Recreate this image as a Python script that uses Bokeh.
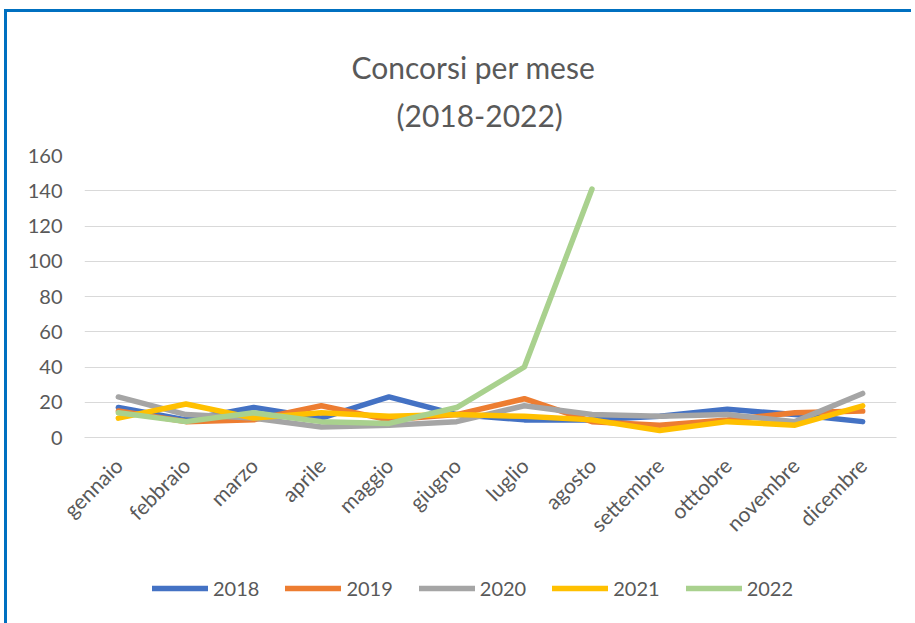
import math
from bokeh.plotting import figure
from bokeh.layouts import column
from bokeh.models import FactorRange, Range1d, Legend, LegendItem, Title, FixedTicker
from bokeh.embed import file_html
from bokeh.resources import INLINE

mesi = ["gennaio", "febbraio", "marzo", "aprile", "maggio", "giugno",
        "luglio", "agosto", "settembre", "otttobre", "novembre", "dicembre"]
anni = ["2018", "2019", "2020", "2021", "2022"]
nan = float("nan")
v2018 = [17, 10, 17, 11, 23, 13, 10, 10, 12, 16, 13, 9]
v2019 = [15, 9, 10, 18, 10, 13, 22, 9, 7, 10, 14, 15]
v2020 = [23, 13, 11, 6, 7, 9, 18, 13, 12, 13, 9, 25]
v2021 = [11, 19, 11, 14, 12, 13, 12, 10, 4, 9, 7, 18]
v2022 = [14, 9, 14, 9, 8, 17, 40, 141, nan, nan, nan, nan]
y_ticks = [0, 20, 40, 60, 80, 100, 120, 140, 160]
colori = ["#4472C4", "#ED7D31", "#A5A5A5", "#FFC000", "#A9D18E"]
serie = [v2018, v2019, v2020, v2021, v2022]

FONT = "Lato"
GREY = "#595959"
LW = 5.5

p = figure(width=904, height=551, output_backend="svg", toolbar_location=None,
           x_range=FactorRange(*mesi, range_padding=0), y_range=Range1d(0, 160),
           min_border_left=77, min_border_right=15, min_border_top=143, min_border_bottom=126)
p.outline_line_color = None
p.background_fill_color = "white"
p.border_fill_color = "white"

p.xgrid.grid_line_color = None
p.ygrid.grid_line_color = "#D9D9D9"
p.ygrid.grid_line_width = 1

p.yaxis.ticker = FixedTicker(ticks=y_ticks)
p.yaxis.axis_line_color = None
p.yaxis.major_tick_line_color = None
p.yaxis.major_tick_out = 0
p.yaxis.major_tick_in = 0
p.yaxis.minor_tick_line_color = None
p.yaxis.major_label_standoff = 22
p.yaxis.major_label_text_font = FONT
p.yaxis.major_label_text_font_size = "20px"
p.yaxis.major_label_text_color = GREY

p.xaxis.axis_line_color = "#D9D9D9"
p.xaxis.major_tick_line_color = None
p.xaxis.major_tick_out = 0
p.xaxis.major_tick_in = 0
p.xaxis.minor_tick_line_color = None
p.xaxis.major_label_orientation = math.pi / 4
p.xaxis.major_label_standoff = 24
p.xaxis.major_label_text_font = FONT
p.xaxis.major_label_text_font_size = "21px"
p.xaxis.major_label_text_color = GREY

for vals, col in zip(serie, colori):
    p.line(x=mesi, y=vals, line_color=col, line_width=LW,
           line_cap="round", line_join="round")

p.add_layout(Title(text="(2018-2022)", align="left", offset=312,
                   text_font=FONT, text_font_size="30px", text_font_style="normal",
                   text_color=GREY, standoff=46), "above")
p.add_layout(Title(text="Concorsi per mese", align="left", offset=267,
                   text_font=FONT, text_font_size="30px", text_font_style="normal",
                   text_color=GREY, standoff=-26), "above")

# legend strip (same series, drawn off-range so only the legend shows)
q = figure(width=904, height=60, output_backend="svg", toolbar_location=None,
           x_range=FactorRange(*mesi, range_padding=0), y_range=Range1d(1000, 1001),
           x_axis_location=None, y_axis_location=None,
           min_border_left=0, min_border_right=0, min_border_top=0, min_border_bottom=0)
q.grid.visible = False
q.outline_line_color = None
q.border_fill_color = "white"
q.background_fill_color = "white"
items = []
for anno, vals, col in zip(anni, serie, colori):
    r = q.line(x=mesi, y=vals, line_color=col, line_width=LW, line_cap="round")
    items.append(LegendItem(label=anno, renderers=[r]))
legend = Legend(items=items, orientation="horizontal", location=(68, 23),
                glyph_width=56, glyph_height=20, label_standoff=5, spacing=26,
                padding=5, margin=0, border_line_color=None, background_fill_alpha=0,
                label_text_font=FONT, label_text_font_size="20px",
                label_text_color=GREY)
q.add_layout(legend)

lay = column(p, q, spacing=0,
             styles={"border-left": "3px solid #0070C0", "border-top": "3px solid #0070C0",
                     "margin-left": "4px", "margin-top": "9px"})

open("out.html", "w").write(file_html(lay, INLINE))
